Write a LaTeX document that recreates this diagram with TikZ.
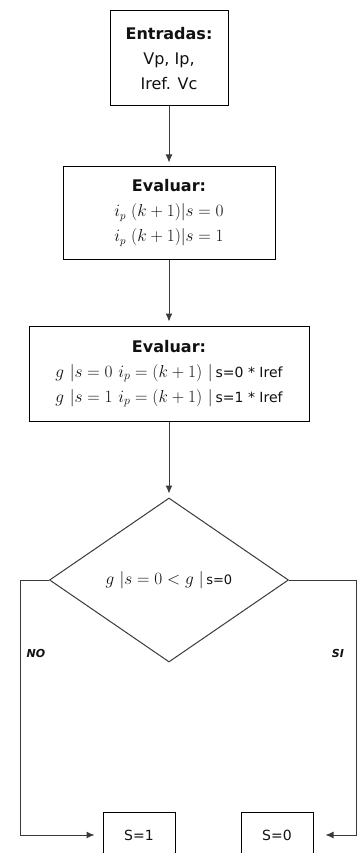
\documentclass[tikz,border=0pt]{standalone}
\usepackage{amsmath,amssymb}
\usepackage{fontspec}
\setmainfont{DejaVu Sans}
\usepackage{xcolor}
\usepackage{tikz}
\usetikzlibrary{shapes.geometric, arrows.meta, positioning}
\definecolor{LineGray}{HTML}{3A3A3A}
\definecolor{TextDark}{HTML}{111111}

\begin{document}
\begin{tikzpicture}[
    x=1pt, y=1pt,
    caja/.style={draw=black, fill=white, line width=1pt, inner sep=4pt, align=center, text=TextDark, font=\fontsize{16}{25}\selectfont},
    decision/.style={diamond, draw=LineGray, fill=white, line width=1pt, inner sep=0pt, minimum width=239pt, minimum height=164pt, text=TextDark, font=\fontsize{16}{18}\selectfont},
    salida/.style={draw=black, fill=white, line width=1pt, minimum width=72pt, minimum height=46pt, inner sep=0pt, text=TextDark, font=\fontsize{14}{16}\selectfont},
    flecha/.style={-{Latex[length=8pt, width=7pt]}, line width=1pt, draw=LineGray, shorten >=4pt},
    etiq/.style={text=TextDark, font=\fontsize{11}{13}\selectfont\bfseries\itshape}
]
\useasboundingbox (0,0) rectangle (359,-853);

% Entradas y evaluaciones (columna central)
\node[caja, minimum width=118pt, minimum height=95pt] (ent) at (169,-58.5) {\textbf{Entradas:}\\ Vp, Ip,\\ Iref. Vc};
\node[caja, minimum width=212pt, minimum height=92pt, below=60pt of ent] (ev1) {\textbf{Evaluar:}\\ $i_p\ (k+1)|s=0$\\ $i_p\ (k+1)|s=1$};
\node[caja, minimum width=280pt, minimum height=95pt, below=66pt of ev1, font=\fontsize{18}{25}\selectfont] (ev2) {{\fontsize{16}{25}\selectfont\textbf{Evaluar:}}\\ $g\ |s=0\ i_p=(k+1)$\ $|$\,{\fontsize{14}{15}\selectfont s=0 * Iref}\\ $g\ |s=1\ i_p=(k+1)$\ $|$\,{\fontsize{14}{15}\selectfont s=1 * Iref}};
\node[decision, below=76pt of ev2] (dec) {$g\ |s=0<g$\ $|$\,{\fontsize{13}{14}\selectfont s=0}};

% Salidas (fila inferior)
\node[salida] (s1) at (139,-835) {S=1};
\node[salida] (s0) at (277,-835) {S=0};

% Etiquetas de las ramas
\node[etiq] (lno) at (36,-653) {NO};
\node[etiq] (lsi) at (338,-653) {SI};

% Flujo principal
\draw[flecha] (ent) -- (ev1);
\draw[flecha] (ev1) -- (ev2);
\draw[flecha] (ev2) -- (dec);

% Ramas de la decision
\draw[flecha, shorten >=8pt] (dec.west) -- ++(-29,0) |- (s1.west);
\draw[flecha, shorten >=12pt] (dec.east) -- ++(67,0) |- (s0.east);

\end{tikzpicture}
\end{document}
